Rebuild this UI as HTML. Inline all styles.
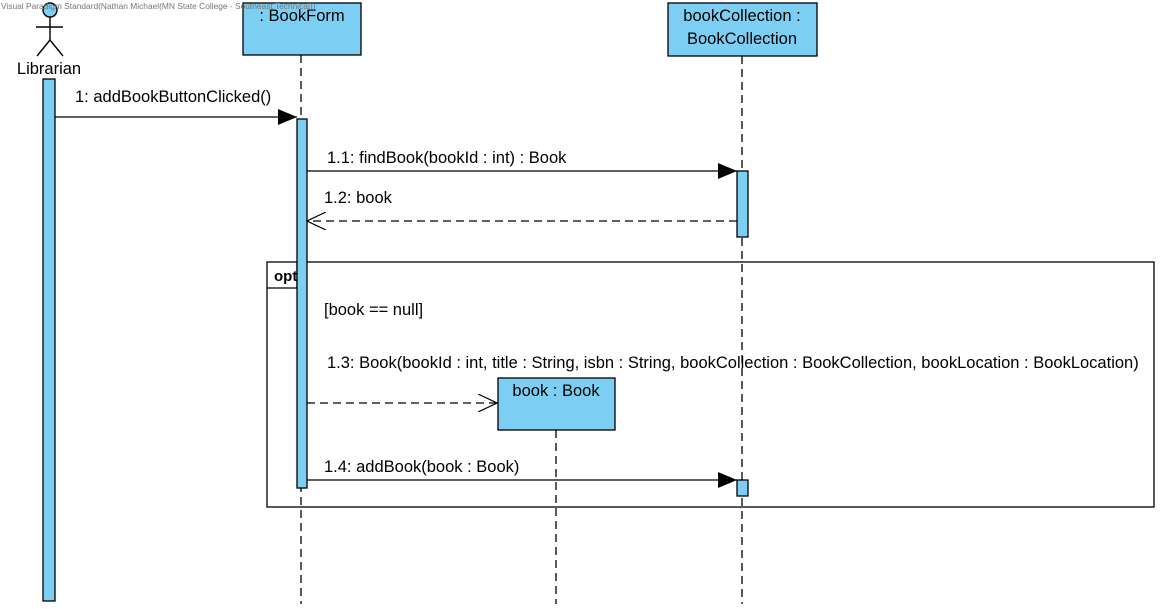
<!DOCTYPE html>
<html><head><meta charset="utf-8"><style>
html,body{margin:0;padding:0;background:#fff;width:1161px;height:609px;overflow:hidden}
text{font-family:"Liberation Sans",Arial,sans-serif;font-size:16.5px;fill:#000}
</style></head><body>
<svg width="1161" height="609" xmlns="http://www.w3.org/2000/svg">
<defs>
<marker id="f" markerWidth="20" markerHeight="16" refX="19" refY="8" orient="auto" markerUnits="userSpaceOnUse"><path d="M0,0 L19,8 L0,16 Z" fill="#000"/></marker>
<marker id="o" markerWidth="20" markerHeight="18" refX="19" refY="9" orient="auto" markerUnits="userSpaceOnUse"><path d="M0,0 L19,9 L0,18" fill="none" stroke="#000" stroke-width="1.2"/></marker>
</defs>
<g stroke="#000" stroke-width="1.3" stroke-dasharray="8,5">
<line x1="301" y1="55" x2="301" y2="604"/>
<line x1="742" y1="56" x2="742" y2="604"/>
<line x1="556" y1="430" x2="556" y2="604"/>
</g>
<rect x="267" y="262" width="887" height="245" fill="none" stroke="#000" stroke-width="1.3"/>
<path d="M267,288 H297 V262" fill="none" stroke="#000" stroke-width="1.3"/>
<text x="274" y="281" style="font-weight:bold;font-size:15px">opt</text>
<g stroke="#000" stroke-width="1.4" fill="none">
<circle cx="50" cy="10" r="7" fill="#7ccff3"/>
<line x1="50" y1="17" x2="50" y2="40"/>
<line x1="36" y1="27" x2="63" y2="27"/>
<line x1="50" y1="40" x2="37" y2="56"/>
<line x1="50" y1="40" x2="63" y2="56"/>
</g>
<text x="49" y="74" text-anchor="middle">Librarian</text>
<g fill="#7ccff3" stroke="#000" stroke-width="1.3">
<rect x="243" y="3" width="118" height="52"/>
<rect x="668" y="3" width="149" height="53"/>
<rect x="498" y="378" width="117" height="52"/>
<rect x="43" y="79" width="12" height="522"/>
<rect x="297" y="119" width="10" height="369"/>
<rect x="737" y="171" width="11" height="66"/>
<rect x="737" y="480" width="11" height="16"/>
</g>
<text x="302" y="21" text-anchor="middle">: BookForm</text>
<text x="742" y="21" text-anchor="middle">bookCollection :</text>
<text x="742" y="44" text-anchor="middle">BookCollection</text>
<text x="556" y="396" text-anchor="middle">book : Book</text>
<g stroke="#000" stroke-width="1.3">
<line x1="55" y1="117" x2="297" y2="117" marker-end="url(#f)"/>
<line x1="307" y1="171" x2="737" y2="171" marker-end="url(#f)"/>
<line x1="737" y1="221" x2="307" y2="221" stroke-dasharray="8,5" marker-end="url(#o)"/>
<line x1="307" y1="403" x2="497" y2="403" stroke-dasharray="8,5" marker-end="url(#o)"/>
<line x1="307" y1="480" x2="737" y2="480" marker-end="url(#f)"/>
</g>
<text x="75" y="102">1: addBookButtonClicked()</text>
<text x="327" y="163">1.1: findBook(bookId : int) : Book</text>
<text x="324" y="203">1.2: book</text>
<text x="324" y="315">[book == null]</text>
<text x="327" y="368">1.3: Book(bookId : int, title : String, isbn : String, bookCollection : BookCollection, bookLocation : BookLocation)</text>
<text x="324" y="472">1.4: addBook(book : Book)</text>
<text x="1" y="9" style="font-size:8.4px;fill:#777">Visual Paradigm Standard(Nathan Michael(MN State College - Southeast Technical))</text>
</svg>
</body></html>
